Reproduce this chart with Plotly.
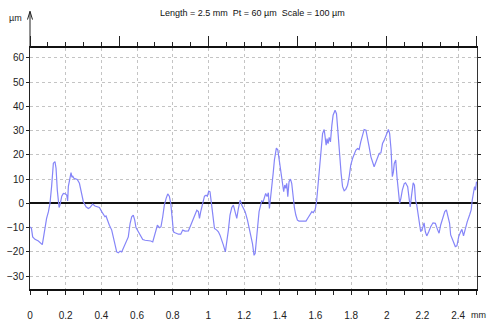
import plotly.graph_objects as go

profile_x_mm = [
    0.000, 0.008, 0.015, 0.028, 0.047, 0.065, 0.069, 0.078, 0.084, 0.093, 0.103, 0.112, 0.121, 0.131, 0.140,
    0.146, 0.153, 0.163, 0.168, 0.178, 0.187, 0.200, 0.206, 0.211, 0.215, 0.223, 0.230, 0.235, 0.240, 0.247,
    0.265, 0.277, 0.290, 0.299, 0.314, 0.327, 0.336, 0.351, 0.364, 0.378, 0.389, 0.402, 0.411, 0.420, 0.426,
    0.434, 0.445, 0.458, 0.467, 0.477, 0.486, 0.495, 0.505, 0.514, 0.523, 0.538, 0.551, 0.561, 0.570, 0.579,
    0.587, 0.594, 0.604, 0.617, 0.632, 0.645, 0.664, 0.677, 0.688, 0.695, 0.706, 0.714, 0.725, 0.734, 0.744,
    0.753, 0.763, 0.772, 0.781, 0.789, 0.798, 0.804, 0.813, 0.832, 0.845, 0.856, 0.869, 0.888, 0.901, 0.912,
    0.925, 0.935, 0.944, 0.950, 0.957, 0.967, 0.978, 0.987, 0.994, 1.002, 1.009, 1.017, 1.024, 1.034, 1.047,
    1.056, 1.065, 1.075, 1.084, 1.095, 1.103, 1.112, 1.121, 1.131, 1.140, 1.150, 1.159, 1.168, 1.178, 1.187,
    1.194, 1.206, 1.219, 1.228, 1.237, 1.247, 1.256, 1.262, 1.269, 1.277, 1.284, 1.293, 1.299, 1.307, 1.314,
    1.321, 1.329, 1.336, 1.342, 1.348, 1.355, 1.363, 1.370, 1.381, 1.389, 1.396, 1.404, 1.411, 1.417, 1.422,
    1.428, 1.434, 1.439, 1.445, 1.452, 1.460, 1.467, 1.475, 1.482, 1.490, 1.499, 1.508, 1.527, 1.547, 1.556,
    1.569, 1.580, 1.588, 1.599, 1.606, 1.614, 1.621, 1.630, 1.640, 1.649, 1.654, 1.660, 1.665, 1.671, 1.677,
    1.684, 1.692, 1.699, 1.710, 1.718, 1.724, 1.729, 1.737, 1.744, 1.752, 1.761, 1.770, 1.780, 1.789, 1.798,
    1.808, 1.817, 1.826, 1.836, 1.845, 1.854, 1.864, 1.873, 1.883, 1.892, 1.901, 1.911, 1.920, 1.929, 1.939,
    1.948, 1.957, 1.967, 1.976, 1.985, 1.995, 2.004, 2.009, 2.016, 2.024, 2.031, 2.037, 2.042, 2.050, 2.057,
    2.064, 2.072, 2.079, 2.087, 2.098, 2.105, 2.117, 2.124, 2.131, 2.139, 2.148, 2.155, 2.161, 2.168, 2.176,
    2.183, 2.190, 2.200, 2.209, 2.216, 2.224, 2.235, 2.246, 2.259, 2.272, 2.284, 2.293, 2.302, 2.315, 2.325,
    2.334, 2.343, 2.352, 2.358, 2.365, 2.375, 2.384, 2.393, 2.403, 2.414, 2.421, 2.430, 2.440, 2.451, 2.464,
    2.473, 2.479, 2.485, 2.492, 2.497, 2.503,
]
profile_um = [
    -9.7, -10.3, -13.8, -14.8, -15.5, -16.6, -17.0, -13.0, -9.7, -6.2, -3.5, 0.0, 6.9, 16.6, 17.2,
    14.5, 5.5, -1.7, -0.7, 3.0, 4.1, 3.9, 3.4, 1.0, 7.0, 11.0, 12.7, 10.8, 11.2, 10.3,
    9.9, 8.3, 2.8, 0.7, -1.4, -2.1, -1.7, -0.3, -1.1, -1.4, -1.7, -3.4, -4.8, -5.5, -5.2,
    -6.9, -9.0, -11.0, -13.8, -17.2, -20.0, -20.4, -19.7, -20.0, -18.3, -15.9, -13.8, -8.3, -5.5, -4.8,
    -6.9, -10.0, -11.4, -13.1, -14.9, -15.2, -15.2, -15.5, -15.9, -13.8, -11.0, -9.0, -10.0, -9.7, -5.5,
    -0.7, 2.1, 3.9, 3.0, 0.0, -6.9, -11.7, -12.1, -12.7, -12.7, -11.0, -11.4, -11.3, -9.0, -6.9,
    -4.8, -2.8, -3.4, -6.2, -3.4, -0.7, 3.0, 3.4, 3.0, 5.1, 4.8, 0.0, -5.5, -10.3, -11.0,
    -11.7, -13.1, -14.9, -17.2, -20.0, -16.6, -11.0, -4.8, -1.7, -0.7, -4.1, -6.2, -2.1, 1.4, -0.7,
    -1.7, -3.4, -6.9, -9.7, -13.1, -16.6, -21.4, -20.7, -15.2, -8.3, -3.4, -0.7, 1.0, 0.7, 2.5,
    4.1, 2.8, 4.4, -2.1, 1.4, 6.2, 12.4, 17.9, 22.8, 22.1, 18.6, 13.1, 9.0, 7.6, 4.8,
    7.6, 6.2, 8.3, 2.8, 9.0, 10.0, 8.3, 1.4, -1.7, -4.8, -6.9, -7.3, -7.3, -7.3, -6.2,
    -4.8, -3.4, -3.8, -2.4, 0.5, 6.9, 13.7, 21.9, 28.8, 30.5, 27.4, 24.0, 26.7, 24.7, 27.2,
    25.4, 32.2, 36.4, 38.4, 37.0, 31.5, 26.0, 19.2, 12.3, 6.9, 5.2, 5.8, 7.5, 11.0, 15.8,
    18.5, 20.6, 21.9, 22.6, 22.2, 25.4, 28.8, 30.5, 30.2, 27.4, 23.3, 19.2, 16.5, 15.1, 17.1,
    19.2, 20.6, 20.9, 24.7, 26.0, 28.1, 30.2, 30.5, 28.8, 22.0, 11.0, 13.0, 16.5, 17.9, 11.0,
    4.1, 0.0, 2.1, 5.5, 8.2, 8.5, 6.9, 2.7, -1.4, 3.4, 8.5, 7.5, 1.4, -0.7, -4.1,
    -8.2, -11.7, -10.3, -8.0, -11.7, -13.4, -11.7, -9.6, -8.0, -8.2, -10.7, -12.3, -8.9, -5.5, -3.4,
    -2.7, -5.2, -8.2, -13.0, -14.4, -15.8, -17.8, -17.5, -13.7, -11.7, -10.7, -13.4, -10.3, -7.5, -4.8,
    -2.7, 1.4, 4.8, 6.9, 5.5, 9.0,
]

x_tick_vals = [0, 0.2, 0.4, 0.6, 0.8, 1.0, 1.2, 1.4, 1.6, 1.8, 2.0, 2.2, 2.4]
x_tick_text = ["0", "0.2", "0.4", "0.6", "0.8", "1", "1.2", "1.4", "1.6", "1.8", "2", "2.2", "2.4"]
y_tick_vals = [60, 50, 40, 30, 20, 10, 0, -10, -20, -30]
title_text = "Length = 2.5 mm  Pt = 60 µm  Scale = 100 µm"
y_unit = "µm"
x_unit = "mm"

X_RANGE = [0, 2.5056]
Y_RANGE = [-35.3, 64.1]
FONT = "Liberation Sans, Arial, sans-serif"
GRID = "#c4c4c4"

fig = go.Figure()
fig.add_trace(go.Scatter(x=profile_x_mm, y=profile_um, mode="lines",
                         line=dict(color="#8585f8", width=1.2), hoverinfo="skip",
                         showlegend=False))
fig.add_trace(go.Scatter(x=[0], y=[0], xaxis="x2", yaxis="y2", mode="markers",
                         marker=dict(opacity=0), hoverinfo="skip", showlegend=False))

fig.update_layout(
    width=489, height=322,
    margin=dict(l=30, r=12, t=48, b=33, autoexpand=False),
    paper_bgcolor="white", plot_bgcolor="white",
    font=dict(family=FONT, size=10, color="#222"),
    title=dict(text=title_text, x=0.516, xanchor="center", y=0.96, yanchor="middle",
               font=dict(family=FONT, size=9, color="#111")),
    xaxis=dict(range=X_RANGE, tickvals=x_tick_vals, ticktext=x_tick_text, automargin=False,
               showgrid=True, gridcolor=GRID, griddash="dot", gridwidth=1,
               ticks="outside", ticklen=4, tickcolor="#222", tickwidth=1,
               minor=dict(dtick=0.1, tick0=0, ticks="outside", ticklen=4, tickcolor="#222", showgrid=False),
               showline=True, linecolor="#111", linewidth=2, zeroline=False,
               ticklabelstandoff=12, tickfont=dict(family=FONT, size=10)),
    xaxis2=dict(range=X_RANGE, overlaying="x", side="top", showgrid=False, automargin=False,
                tick0=0, dtick=0.5, ticks="outside", ticklen=10, tickcolor="#222",
                minor=dict(dtick=0.1, tick0=0, ticks="outside", ticklen=4, tickcolor="#222", showgrid=False),
                showticklabels=False, showline=True, linecolor="#111", linewidth=2, zeroline=False),
    yaxis=dict(range=Y_RANGE, tickvals=y_tick_vals, showgrid=True, gridcolor=GRID, griddash="dot",
               ticks="outside", ticklen=3, tickcolor="#222", automargin=False,
               showline=True, linecolor="#222", linewidth=1,
               zeroline=True, zerolinecolor="#111", zerolinewidth=2,
               tickfont=dict(family=FONT, size=10)),
    yaxis2=dict(range=Y_RANGE, overlaying="y", side="right", tickvals=y_tick_vals, automargin=False,
                showgrid=False, ticks="outside", ticklen=3, tickcolor="#222",
                showticklabels=False, showline=True, linecolor="#333", linewidth=1, zeroline=False),
)

# vertical axis arrow above plot
fig.add_shape(type="line", xref="paper", yref="paper", x0=0, x1=0, y0=1, y1=1.152,
              line=dict(color="#222", width=1))
fig.add_shape(type="line", xref="paper", yref="paper", x0=-0.0056, x1=0, y0=1.118, y1=1.152,
              line=dict(color="#222", width=1))
fig.add_shape(type="line", xref="paper", yref="paper", x0=0.0056, x1=0, y0=1.118, y1=1.152,
              line=dict(color="#222", width=1))

fig.add_annotation(text=y_unit, xref="paper", yref="paper", x=-0.032, y=1.125,
                   xanchor="center", yanchor="middle", showarrow=False,
                   font=dict(family=FONT, size=9, color="#222"))
fig.add_annotation(text=x_unit, xref="paper", yref="paper", x=0.982, y=-0.108,
                   xanchor="left", yanchor="middle", showarrow=False,
                   font=dict(family=FONT, size=9, color="#222"))

fig.write_html("out.html")
